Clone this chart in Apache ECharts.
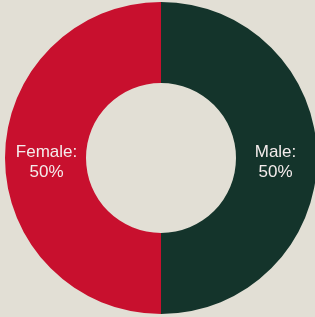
<!DOCTYPE html>
<html>
<head>
    <meta charset="utf-8"/>
    <title>Gender</title>
    <script src="https://cdn.jsdelivr.net/npm/echarts@6/dist/echarts.min.js"></script>
    <style>
        html, body { margin: 0; padding: 0; background: #e2dfd5; }
        #chart { width: 315px; height: 317px; }
    </style>
</head>
<body>
<div id="chart"></div>
<script>
    // data
    var labels = ['Male', 'Female'];
    var values = [50, 50];
    var colors = ['#14342b', '#c8102e'];
    // nudge labels toward the hole, as in the original
    var labelPad = [[0, 8, 0, 0], [0, 0, 0, 8]];

    var pieData = [];
    for (let i = 0; i < labels.length; i++) {
        pieData.push({
            name: labels[i],
            value: values[i],
            itemStyle: { color: colors[i] },
            label: { padding: labelPad[i] }
        });
    }

    var myChart = echarts.init(document.getElementById('chart'));
    myChart.setOption({
        backgroundColor: '#e2dfd5',
        animation: false,
        series: [{
            type: 'pie',
            center: [161, 158],
            radius: [75, 156],
            startAngle: 90,
            clockwise: true,
            itemStyle: { borderWidth: 0 },
            label: {
                show: true,
                position: 'inside',
                formatter: '{gap|}\n{t|{b}:}\n{t|{d}%}',
                rich: {
                    gap: { lineHeight: 9, fontSize: 1 },
                    t: {
                        color: '#f4ecec',
                        fontFamily: 'Liberation Sans, Arial, sans-serif',
                        fontSize: 17,
                        lineHeight: 20
                    }
                }
            },
            labelLine: { show: false },
            emphasis: { disabled: true },
            data: pieData
        }]
    });

    window.onresize = function () {
        myChart.resize();
    };
</script>
</body>
</html>
